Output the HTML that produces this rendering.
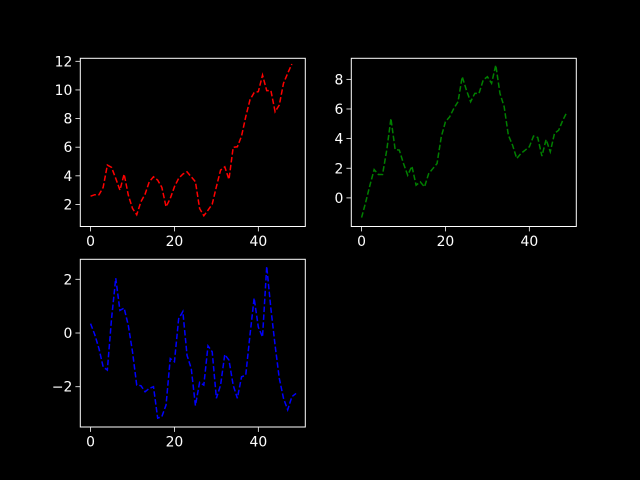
<!DOCTYPE html>
<html><head><meta charset="utf-8"><style>
html,body{margin:0;padding:0;background:#000;}
svg{display:block;font-family:"DejaVu Sans","Liberation Sans",sans-serif;}
</style></head><body>
<svg id="fig" width="640" height="480" viewBox="0 0 640 480" xmlns="http://www.w3.org/2000/svg">
<rect x="0" y="0" width="640" height="480" fill="#000"/>
</svg>
<script>
const redValues=[2.58,2.68,2.68,3.19,4.75,4.59,3.82,3.0,4.12,2.65,1.72,1.28,2.19,2.72,3.59,3.93,3.70,3.19,1.84,2.42,3.24,3.82,4.12,4.28,3.93,3.59,1.72,1.21,1.6,2.02,3.24,4.4,4.63,3.75,5.99,6.03,6.78,8.13,9.3,9.81,9.88,11.04,9.95,9.95,8.48,8.95,10.46,11.16,11.81];
const greenValues=[-1.33,-0.27,0.86,1.91,1.58,1.58,3.22,5.36,3.27,3.22,2.32,1.53,2.14,0.86,1.08,0.74,1.64,1.98,2.32,4.12,5.14,5.47,6.04,6.49,8.18,7.27,6.49,7.05,7.05,7.95,8.18,7.73,8.96,7.05,6.15,4.23,3.56,2.66,3.0,3.22,3.45,4.17,4.08,2.82,3.94,3.11,4.35,4.57,5.25,5.81];
const blueValues=[0.35,-0.06,-0.58,-1.26,-1.38,0.53,2.04,0.84,0.93,0.28,-0.70,-1.94,-1.96,-2.19,-2.06,-2.0,-3.17,-3.11,-2.68,-0.95,-1.07,0.53,0.80,-0.83,-1.32,-2.70,-1.84,-1.94,-0.48,-0.70,-2.43,-1.94,-0.80,-1.01,-1.94,-2.43,-1.63,-1.57,-0.09,1.30,0.22,-0.15,2.48,0.90,-0.46,-1.69,-2.43,-2.86,-2.37,-2.25];
const xTicks=[0,20,40];
const redYTicks=[2,4,6,8,10,12];
const greenYTicks=[0,2,4,6,8];
const blueYTicks=[-2,0,2];

const NS="http://www.w3.org/2000/svg";
const svg=document.getElementById('fig');
function mk(tag,attrs,parent){const e=document.createElementNS(NS,tag);for(const k in attrs)e.setAttribute(k,attrs[k]);(parent||svg).appendChild(e);return e;}

function panel(name,box,ylim,values,color,yTicks){
  const g=mk('g',{});
  
  
  const xlim=[-2.45,51.2];
  const sx=v=>box.x0+(v-xlim[0])/(xlim[1]-xlim[0])*(box.x1-box.x0);
  const sy=v=>box.y1-(v-ylim[0])/(ylim[1]-ylim[0])*(box.y1-box.y0);
  const pts=values.map((v,i)=>sx(i).toFixed(2)+','+sy(v).toFixed(2)).join(' ');
  const line=mk('polyline',{points:pts,fill:'none',stroke:color,'stroke-width':1.5,'stroke-dasharray':'5.5,2.4'},g);
  
  
  const frame=mk('rect',{x:box.x0,y:box.y0,width:box.x1-box.x0,height:box.y1-box.y0,fill:'none',stroke:'#fff','stroke-width':1},g);
  
  
  xTicks.forEach(t=>{
    const x=sx(t);
    const tk=mk('line',{x1:x,x2:x,y1:box.y1,y2:box.y1+4.9,stroke:'#fff','stroke-width':0.8},g);
    
    
    const tx=mk('text',{x:x,y:box.y1+19.5,fill:'#fff','font-size':'13.9px','text-anchor':'middle'},g);
    tx.textContent=t;
    
    
  });
  yTicks.forEach(t=>{
    const y=sy(t);
    const tk=mk('line',{x1:box.x0-4.9,x2:box.x0,y1:y,y2:y,stroke:'#fff','stroke-width':0.8},g);
    
    
    const tx=mk('text',{x:box.x0-8,y:y+5,fill:'#fff','font-size':'13.9px','text-anchor':'end'},g);
    tx.textContent=t<0?'\u2212'+Math.abs(t):t;
    
    
  });
}
panel('red',{x0:80.3,x1:305.3,y0:58.3,y1:226.5},[0.46,12.21],redValues,'#ff0000',redYTicks);
panel('green',{x0:351.3,x1:576.3,y0:58.3,y1:226.5},[-1.93,9.42],greenValues,'#008000',greenYTicks);
panel('blue',{x0:80.3,x1:305.3,y0:259.3,y1:427},[-3.5,2.745],blueValues,'#0000ff',blueYTicks);
</script>
</body></html>
